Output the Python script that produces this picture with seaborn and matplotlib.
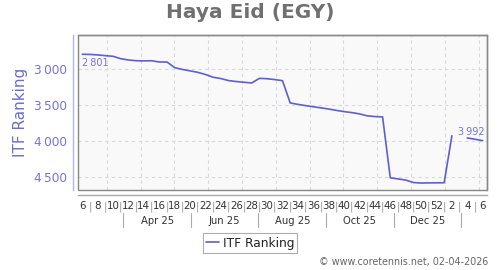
import numpy as np
import pandas as pd
import matplotlib
matplotlib.use("Agg")
import matplotlib.pyplot as plt
import matplotlib.transforms as mtrans
from matplotlib.lines import Line2D
import seaborn as sns

# ---- data ----
week_labels = ["6", "8", "10", "12", "14", "16", "18", "20", "22", "24", "26", "28", "30",
               "32", "34", "36", "38", "40", "42", "44", "46", "48", "50", "52", "2", "4", "6"]
month_labels = ["Apr 25", "Jun 25", "Aug 25", "Oct 25", "Dec 25"]
ranking = [2801, 2803, 2810, 2820, 2829, 2862, 2880, 2890, 2892, 2890, 2907, 2908,
           2985, 3010, 3030, 3050, 3080, 3118, 3136, 3164, 3177, 3187, 3197, 3133,
           3138, 3150, 3165, 3472, 3492, 3509, 3525, 3540, 3556, 3575, 3592, 3605,
           3623, 3650, 3660, 3665, 4505, 4520, 4536, 4570, 4577, 4575, 4574, 4573,
           3925, np.nan, 3955, 3973, 3992]
y_ticks = [3000, 3500, 4000, 4500]
y_tick_labels = ["3\u2009000", "3\u2009500", "4\u2009000", "4\u2009500"]
first_label = "2\u2009801"
last_label = "3\u2009992"

LINE = "#5e5ed8"
PURPLE = "#7474d4"

sns.set_theme(style="white")
plt.rcParams["font.family"] = ["DejaVu Sans"]

weeks = np.arange(len(ranking))
vals = np.array(ranking, dtype=float)
seg = np.cumsum(np.isnan(vals))
df = pd.DataFrame({"week": weeks, "rank": vals, "seg": seg}).dropna()

fig = plt.figure(figsize=(5, 2.7), dpi=100)
L, R, T, B = 78.3, 487.3, 35.0, 190.0
ax = fig.add_axes([L / 500, 1 - B / 270, (R - L) / 500, (B - T) / 270])
ax.set_facecolor("#f9f9f9")

# grid
grid_x = 3.17 + 4.39 * np.arange(12)
for gx in grid_x:
    ax.axvline(gx, color="#d8d8d8", lw=0.8, ls=(0, (3, 3)), zorder=0)
for gy in y_ticks:
    ax.axhline(gy, color="#d8d8d8", lw=0.8, ls=(0, (3, 3)), zorder=0)

sns.lineplot(data=df, x="week", y="rank", units="seg", estimator=None,
             color=LINE, lw=1.2, ax=ax, legend=False, zorder=3)

ax.set_xlim(-0.52, 52.6)
ax.set_ylim(4673, 2535)
ax.set_xlabel("")
ax.set_ylabel("")

# y axis
ax.set_yticks(y_ticks)
ax.set_yticklabels(y_tick_labels)
ax.tick_params(axis="y", length=0, pad=4.8, labelsize=8.7, labelcolor=PURPLE)

# x axis: numbers at even weeks, separators at odd weeks
ax.set_xticks(np.arange(0, len(ranking), 2))
ax.set_xticklabels(week_labels)
ax.set_xticks(np.arange(1, len(ranking), 2), minor=True)
ax.set_xticklabels(["|"] * len(np.arange(1, len(ranking), 2)), minor=True)
ax.tick_params(axis="x", which="major", length=2, width=0, color="none", pad=2.5,
               labelsize=7.4, labelcolor="#333333")
ax.tick_params(axis="x", which="minor", length=2, width=0.7, color="#aaaaaa", pad=2.5,
               labelsize=7.4, labelcolor="#999999")

# spines
for s in ["top", "right"]:
    ax.spines[s].set_visible(True)
    ax.spines[s].set_color("#888888")
    ax.spines[s].set_linewidth(1.0)
ax.spines["left"].set_position(("outward", 3.6))
ax.spines["left"].set_color("#b4b4ea")
ax.spines["left"].set_linewidth(1.0)
ax.spines["bottom"].set_position(("outward", 3.6))
ax.spines["bottom"].set_color("#aaaaaa")
ax.spines["bottom"].set_linewidth(1.0)
ax.add_patch(plt.Rectangle((0, 0), 1, 1, transform=ax.transAxes, fill=False,
                           edgecolor="#888888", lw=1.0, clip_on=False, zorder=5))

# month row
tr = mtrans.blended_transform_factory(ax.transData, fig.transFigure)
edges = 5.32 + 8.78 * np.arange(len(month_labels) + 1)
for e in edges:
    ax.add_line(Line2D([e, e], [1 - 213 / 270, 1 - 227 / 270], transform=tr,
                       color="#aaaaaa", lw=0.8, clip_on=False))
for i, m in enumerate(month_labels):
    ax.text((edges[i] + edges[i + 1]) / 2, 1 - 220.7 / 270, m, transform=tr,
            ha="center", va="center", fontsize=7.2, color="#333333")

# value annotations
ax.annotate(first_label, xy=(weeks[0], ranking[0]), xytext=(0, -6),
            textcoords="offset points", ha="left", va="center",
            fontsize=7, color=PURPLE)
ax.annotate(last_label, xy=(weeks[-1], ranking[-1]), xytext=(-17.6, 6),
            textcoords="offset points", ha="left", va="center",
            fontsize=7, color=PURPLE)

# title, y label
fig.text(0.5, 1 - 12.7 / 270, "Haya Eid (EGY)", ha="center", va="center",
         fontsize=14.5, fontweight="bold", color="#707070")
fig.text(20.7 / 500, 1 - 112.8 / 270, "ITF Ranking", rotation=90, ha="center",
         va="center", fontsize=11, color="#6b6bd6")

# legend
handle = Line2D([], [], color=LINE, lw=1.2)
leg = fig.legend([handle], ["ITF Ranking"], loc="center",
                 bbox_to_anchor=(250 / 500, 1 - 243 / 270), fontsize=8.7,
                 frameon=True, fancybox=False, handlelength=1.1,
                 handletextpad=0.3, borderpad=0.25, borderaxespad=0)
leg.get_frame().set_edgecolor("#999999")
leg.get_frame().set_linewidth(0.8)
for t in leg.get_texts():
    t.set_color("#222222")

fig.text(488 / 500, 1 - 262 / 270, "\u00a9 www.coretennis.net, 02-04-2026",
         ha="right", va="center", fontsize=6.9, color="#666666")

fig.savefig("out.png", dpi=100)
